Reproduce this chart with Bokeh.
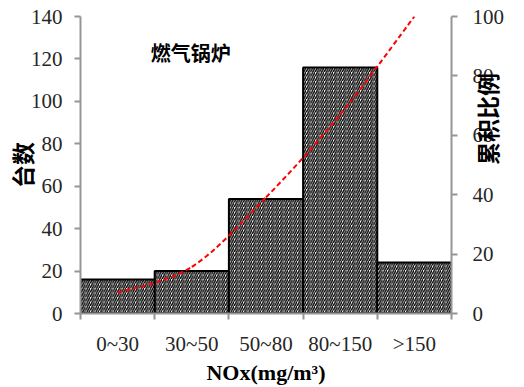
import numpy as np
from bokeh.plotting import figure
from bokeh.models import (Range1d, LinearAxis, FixedTicker, Label, ColumnDataSource)
from bokeh.embed import file_html
from bokeh.resources import INLINE

# ---- data ----
categories = ["0~30", "30~50", "50~80", "80~150", ">150"]
counts = [16, 20, 54, 116, 24]
cumulative_pct = [7.0, 15.7, 39.1, 67.0, 100.0]
count_ticks = [0, 20, 40, 60, 80, 100, 120, 140]
pct_ticks = [0, 20, 40, 60, 80, 100]
title_text = "燃气锅炉"
x_label = "NOx(mg/m³)"
y_label = "台数"
y2_label = "累积比例"

SERIF = "Liberation Serif"
CJK = "Noto Sans CJK SC"
AXIS_GRAY = "#969696"
TXT = "#262626"

n = len(categories)
centers = [i + 0.5 for i in range(n)]
p = figure(width=524, height=387,
           x_range=Range1d(0, n),
           y_range=Range1d(0, count_ticks[-1]),
           x_axis_location=None, y_axis_location="left",
           output_backend="svg", toolbar_location=None,
           min_border_left=80, min_border_right=72,
           min_border_top=16, min_border_bottom=73)
p.extra_y_ranges = {"pct": Range1d(0, pct_ticks[-1])}
p.outline_line_color = None
p.background_fill_color = "white"
p.border_fill_color = "white"

# grid: only a black line on top
p.xgrid.visible = False
p.ygrid.ticker = FixedTicker(ticks=[count_ticks[-1]])
p.ygrid.grid_line_color = "black"
p.ygrid.grid_line_width = 2

# bars
src = ColumnDataSource(dict(x=centers, cnt=counts, cat=categories))
p.vbar(x="x", top="cnt", width=1.0, bottom=0, source=src,
       fill_color="white", line_color="black", line_width=2,
       hatch_pattern="/", hatch_color="black", hatch_scale=4.5, hatch_weight=1.4)

# cumulative line (smooth, Catmull-Rom as bezier segments)
xs = np.array(centers)
ys = np.array(cumulative_pct, dtype=float)
px = np.concatenate([[xs[0]], xs, [xs[-1]]])
py = np.concatenate([[ys[0]], ys, [ys[-1]]])
x0 = xs[:-1]; y0 = ys[:-1]; x1 = xs[1:]; y1 = ys[1:]
cx0 = px[1:-2] + (px[2:-1] - px[0:-3]) / 6.0
cy0 = py[1:-2] + (py[2:-1] - py[0:-3]) / 6.0
cx1 = px[2:-1] - (px[3:] - px[1:-2]) / 6.0
cy1 = py[2:-1] - (py[3:] - py[1:-2]) / 6.0
p.bezier(x0=x0, y0=y0, x1=x1, y1=y1, cx0=cx0, cy0=cy0, cx1=cx1, cy1=cy1,
         y_range_name="pct",
         line_color="#FF0000", line_width=2, line_dash="5 3")

# left axis
ya = p.yaxis[0]
ya.ticker = FixedTicker(ticks=count_ticks)
ya.axis_line_color = AXIS_GRAY
ya.axis_line_width = 2
ya.major_tick_line_color = AXIS_GRAY
ya.major_tick_line_width = 2
ya.major_tick_in = 0
ya.major_tick_out = 6
ya.minor_tick_line_color = None
ya.major_label_standoff = 12
ya.major_label_text_font = SERIF
ya.major_label_text_font_size = "21px"
ya.major_label_text_color = TXT
ya.axis_label = y_label
ya.axis_label_text_font = CJK
ya.axis_label_text_font_style = "bold"
ya.axis_label_text_font_size = "23px"
ya.axis_label_text_color = "black"
ya.axis_label_standoff = -11

# right axis
ra = LinearAxis(y_range_name="pct", ticker=FixedTicker(ticks=pct_ticks))
ra.axis_line_color = AXIS_GRAY
ra.axis_line_width = 2
ra.major_tick_line_color = AXIS_GRAY
ra.major_tick_line_width = 2
ra.major_tick_in = 0
ra.major_tick_out = 6
ra.minor_tick_line_color = None
ra.major_label_standoff = 15
ra.major_label_text_font = SERIF
ra.major_label_text_font_size = "21px"
ra.major_label_text_color = TXT
ra.axis_label = y2_label
ra.axis_label_orientation = np.pi / 2
ra.axis_label_text_font = CJK
ra.axis_label_text_font_style = "bold"
ra.axis_label_text_font_size = "23px"
ra.axis_label_text_baseline = "top"
ra.axis_label_text_color = "black"
ra.axis_label_standoff = -20
p.add_layout(ra, "right")

# bottom: boundary ticks axis then category labels axis
ta = LinearAxis(ticker=FixedTicker(ticks=list(range(n + 1))))
ta.axis_line_color = AXIS_GRAY
ta.axis_line_width = 2
ta.major_tick_line_color = AXIS_GRAY
ta.major_tick_line_width = 2
ta.major_tick_in = 0
ta.major_tick_out = 6
ta.minor_tick_line_color = None
ta.major_label_overrides = {i: "" for i in range(n + 1)}
ta.major_label_standoff = 0
ta.major_label_text_font_size = "1px"
p.add_layout(ta, "below")

ca = LinearAxis(ticker=FixedTicker(ticks=centers))
ca.major_label_overrides = {c: lab for c, lab in zip(centers, categories)}
ca.axis_line_color = None
ca.major_tick_line_color = None
ca.minor_tick_line_color = None
ca.major_tick_out = 0
ca.major_tick_in = 0
ca.major_label_standoff = 12
ca.major_label_text_font = SERIF
ca.major_label_text_font_size = "21px"
ca.major_label_text_color = TXT
ca.axis_label = x_label
ca.axis_label_text_font = SERIF
ca.axis_label_text_font_style = "bold"
ca.axis_label_text_font_size = "22px"
ca.axis_label_text_color = "black"
ca.axis_label_standoff = 1
p.add_layout(ca, "below")

# chart title inside the plot
p.add_layout(Label(x=1.485, y=123, text=title_text,
                   text_font=CJK, text_font_size="20px", text_font_style="bold",
                   text_color="black", text_align="center", text_baseline="middle"))

open("out.html", "w").write(file_html(p, INLINE))
